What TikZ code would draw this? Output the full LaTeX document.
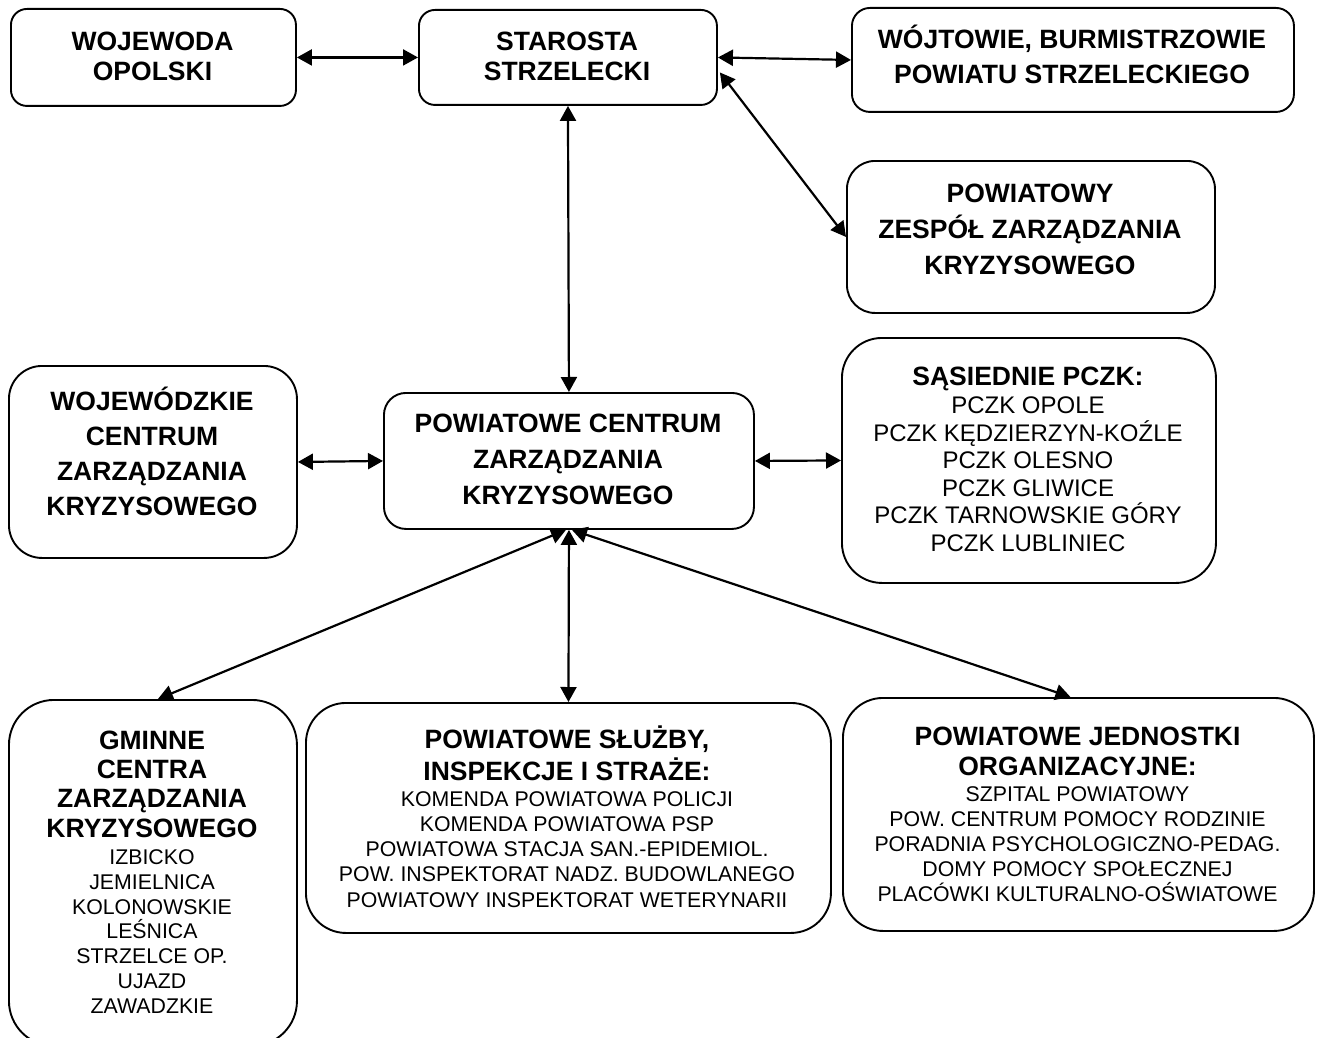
\documentclass[tikz,border=0pt]{standalone}
\usepackage{fontspec}
\setmainfont{Liberation Sans}
\usetikzlibrary{arrows.meta,calc}
\newcommand\fst{\rule{0pt}{25pt}}
\tikzset{
  box/.style={draw, line width=1.9pt, rounded corners=#1, inner sep=0pt, anchor=north west},
  hb/.style={font=\fontsize{26.5}{#1}\selectfont\bfseries, align=center, anchor=north, inner sep=0pt},
  nt/.style={font=\fontsize{21.3}{#1}\selectfont, align=center, anchor=north, inner sep=0pt},
  lt/.style={font=\fontsize{24}{#1}\selectfont, align=center, anchor=north, inner sep=0pt},
  arr/.style={{Triangle[length=15pt,width=16pt]}-{Triangle[length=15pt,width=16pt]}, line width=2.2pt}
}
\begin{document}
\begin{tikzpicture}[x=1pt,y=-1pt]
\useasboundingbox (0,0) rectangle (1319,1038);
\fill[white] (0,0) rectangle (1319,1038);
% boxes
\node[box=16pt, minimum width=285pt, minimum height=97pt] (b1) at (10,8) {};
\node[box=16pt, minimum width=298pt, minimum height=95pt] (b2) at (418,9) {};
\node[box=18pt, minimum width=442pt, minimum height=104pt] (b3) at (851,7) {};
\node[box=28pt, minimum width=368pt, minimum height=152pt] (b4) at (846,160) {};
\node[box=33pt, minimum width=288pt, minimum height=192pt] (b5) at (8,365) {};
\node[box=22pt, minimum width=370pt, minimum height=136pt] (b6) at (383,392) {};
\node[box=40pt, minimum width=374pt, minimum height=245pt] (b7) at (841,337) {};
\node[box=45pt, minimum width=288pt, minimum height=346pt] (b8) at (8,699) {};
\node[box=40pt, minimum width=525pt, minimum height=230pt] (b9) at (305,702) {};
\node[box=40pt, minimum width=471pt, minimum height=233pt] (b10) at (842,697) {};
% texts
\node[hb=30] (t1) at (152.5,25) {\fst WOJEWODA\\OPOLSKI};
\node[hb=30] (t2) at (567,25) {\fst STAROSTA\\STRZELECKI};
\node[hb=35] (t3) at (1072,23) {\fst WÓJTOWIE, BURMISTRZOWIE\\POWIATU STRZELECKIEGO};
\node[hb=36] (t4) at (1030,177) {\fst POWIATOWY\\ZESPÓŁ ZARZĄDZANIA\\KRYZYSOWEGO};
\node[hb=35] (t5) at (152,385) {\fst WOJEWÓDZKIE\\CENTRUM\\ZARZĄDZANIA\\KRYZYSOWEGO};
\node[hb=36] (t6) at (568,407) {\fst POWIATOWE CENTRUM\\ZARZĄDZANIA\\KRYZYSOWEGO};
\node[hb=30] (t7h) at (1028,360) {\fst SĄSIEDNIE PCZK:};
\node[lt=27.5] (t7l) at (1028,388.3) {\fst PCZK OPOLE\\PCZK KĘDZIERZYN-KOŹLE\\PCZK OLESNO\\PCZK GLIWICE\\PCZK TARNOWSKIE GÓRY\\PCZK LUBLINIEC};
\node[hb=29.3] (t8h) at (152,724) {\fst GMINNE\\CENTRA\\ZARZĄDZANIA\\KRYZYSOWEGO};
\node[nt=24.9] (t8l) at (152,839) {\fst IZBICKO\\JEMIELNICA\\KOLONOWSKIE\\LEŚNICA\\STRZELCE OP.\\UJAZD\\ZAWADZKIE};
\node[hb=32] (t9h) at (567,723) {\fst POWIATOWE SŁUŻBY,\\INSPEKCJE I STRAŻE:};
\node[nt=25.2] (t9l) at (567,781) {\fst KOMENDA POWIATOWA POLICJI\\KOMENDA POWIATOWA PSP\\POWIATOWA STACJA SAN.-EPIDEMIOL.\\POW. INSPEKTORAT NADZ. BUDOWLANEGO\\POWIATOWY INSPEKTORAT WETERYNARII};
\node[hb=30] (t10h) at (1077.5,720) {\fst POWIATOWE JEDNOSTKI\\ORGANIZACYJNE:};
\node[nt=25] (t10l) at (1077.5,776) {\fst SZPITAL POWIATOWY\\POW. CENTRUM POMOCY RODZINIE\\PORADNIA PSYCHOLOGICZNO-PEDAG.\\DOMY POMOCY SPOŁECZNEJ\\PLACÓWKI KULTURALNO-OŚWIATOWE};
% connectors
\draw[arr] (b1.east) -- (b2.west);
\draw[arr] (b2.east) -- (b3.west);
\draw[arr] ($(b2.east)+(2,15)$) -- (b4.west);
\draw[arr] (b2.south) -- (b6.north);
\draw[arr] (b5.east) -- (b6.west);
\draw[arr] (b6.east) -- (b7.west);
\draw[arr] ($(b6.south)+(-3,0)$) -- ($(b8.north)+(5,0)$);
\draw[arr] (b6.south) -- (b9.north);
\draw[arr] ($(b6.south)+(3,0)$) -- ($(b10.north)+(-8,0)$);
\end{tikzpicture}
\end{document}
